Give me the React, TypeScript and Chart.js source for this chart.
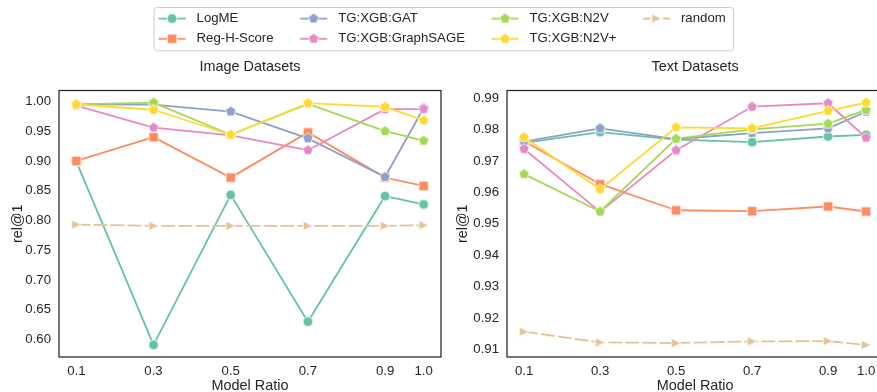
import React, { useEffect, useRef } from 'react';
import { Chart, registerables } from 'chart.js';

Chart.register(...registerables);

// ---------------- data ----------------
const modelRatios = [0.1, 0.3, 0.5, 0.7, 0.9, 1.0];
const seriesNames = ['LogME', 'Reg-H-Score', 'TG:XGB:GAT', 'TG:XGB:GraphSAGE', 'TG:XGB:N2V', 'TG:XGB:N2V+', 'random'];
const seriesColors = ['#66c2a5', '#fc8d62', '#8da0cb', '#e78ac3', '#a6d854', '#ffd92f', '#e5c494'];
const seriesMarkers = ['circle', 'square', 'pentagon', 'pentagon', 'pentagon', 'pentagon', 'triangle'];

// Image Datasets
const imageLogME = [0.899, 0.591, 0.843, 0.630, 0.841, 0.827];
const imageRegHScore = [0.900, 0.940, 0.872, 0.948, 0.872, 0.858];
const imageGAT = [0.995, 0.9945, 0.983, 0.938, 0.873, 0.989];
const imageGraphSAGE = [0.993, 0.956, 0.943, 0.918, 0.987, 0.987];
const imageN2V = [0.995, 0.998, 0.944, 0.996, 0.950, 0.934];
const imageN2VPlus = [0.995, 0.986, 0.944, 0.997, 0.991, 0.968];
const imageRandom = [0.793, 0.791, 0.791, 0.791, 0.791, 0.792];

// Text Datasets
const textLogME = [0.9758, 0.9792, 0.9768, 0.9760, 0.9778, 0.9783];
const textRegHScore = [0.9763, 0.9626, 0.9543, 0.9540, 0.9555, 0.9539];
const textGAT = [0.9762, 0.9804, 0.9770, 0.9789, 0.9804, 0.9857];
const textGraphSAGE = [0.9738, 0.9538, 0.9734, 0.9873, 0.9884, 0.9774];
const textN2V = [0.9658, 0.9539, 0.9771, 0.9801, 0.9819, 0.9863];
const textN2VPlus = [0.9776, 0.9610, 0.9807, 0.9804, 0.9860, 0.9886];
const textRandom = [0.9156, 0.9122, 0.9120, 0.9125, 0.9126, 0.9114];

const imageYTicks = [0.6, 0.65, 0.7, 0.75, 0.8, 0.85, 0.9, 0.95, 1.0];
const textYTicks = [0.91, 0.92, 0.93, 0.94, 0.95, 0.96, 0.97, 0.98, 0.99];

const imageSeries = [imageLogME, imageRegHScore, imageGAT, imageGraphSAGE, imageN2V, imageN2VPlus, imageRandom];
const textSeries = [textLogME, textRegHScore, textGAT, textGraphSAGE, textN2V, textN2VPlus, textRandom];

// ---------------- styling ----------------
const INK = '#262626';
const FONT = '"Liberation Sans", Arial, Helvetica, sans-serif';
const LINE_W = 1.8;
const PLOT_DASH = [14, 3];
const LEGEND_DASH = [7.2, 2.7];

function paintMarker(ctx: CanvasRenderingContext2D, shape: string, cx: number, cy: number, color: string) {
  ctx.beginPath();
  if (shape === 'circle') {
    ctx.arc(cx, cy, 4.9, 0, Math.PI * 2);
  } else if (shape === 'square') {
    ctx.rect(cx - 4.8, cy - 4.8, 9.6, 9.6);
  } else if (shape === 'pentagon') {
    const R = 5.4;
    for (let k = 0; k < 5; k++) {
      const a = -Math.PI / 2 + (k * 2 * Math.PI) / 5;
      const px = cx + R * Math.cos(a);
      const py = cy + R * Math.sin(a);
      if (k === 0) ctx.moveTo(px, py);
      else ctx.lineTo(px, py);
    }
  } else {
    const s = 4.8;
    ctx.moveTo(cx + s, cy);
    ctx.lineTo(cx - s, cy - s);
    ctx.lineTo(cx - s, cy + s);
  }
  ctx.closePath();
  ctx.fillStyle = color;
  ctx.fill();
  ctx.strokeStyle = '#ffffff';
  ctx.lineWidth = 0.8;
  ctx.stroke();
}

function makeMarkerImage(shape: string, color: string) {
  const c = document.createElement('canvas');
  c.width = 16;
  c.height = 16;
  paintMarker(c.getContext('2d')!, shape, 8, 8, color);
  return c;
}

function makeHandleImage(shape: string, color: string, dashed: boolean) {
  const c = document.createElement('canvas');
  c.width = 51;
  c.height = 18;
  const ctx = c.getContext('2d')!;
  ctx.strokeStyle = color;
  ctx.lineWidth = LINE_W;
  if (dashed) ctx.setLineDash(LEGEND_DASH);
  ctx.beginPath();
  ctx.moveTo(19.6, 9);
  ctx.lineTo(46.6, 9);
  ctx.stroke();
  ctx.setLineDash([]);
  paintMarker(ctx, shape, 33.1, 9, color);
  return c;
}

const framePlugin = {
  id: 'axesFrame',
  afterDraw(chart: any) {
    const { ctx, chartArea } = chart;
    ctx.save();
    ctx.strokeStyle = INK;
    ctx.lineWidth = 1.25;
    ctx.strokeRect(chartArea.left, chartArea.top, chartArea.right - chartArea.left, chartArea.bottom - chartArea.top);
    ctx.restore();
  },
};

const legendFramePlugin = {
  id: 'legendFrame',
  beforeDraw(chart: any) {
    const lg = chart.legend;
    const hb = lg && lg.legendHitBoxes;
    if (!hb || hb.length < 7) return;
    const l = hb[0].left + 14.6;
    const r = hb[6].left + hb[6].width + 7.5;
    const t = hb[0].top - 5;
    const b = hb[1].top + hb[1].height + 5;
    const ctx = chart.ctx;
    ctx.save();
    ctx.beginPath();
    if ((ctx as any).roundRect) (ctx as any).roundRect(l + 0.5, t + 0.5, r - l, b - t, 3);
    else ctx.rect(l + 0.5, t + 0.5, r - l, b - t);
    ctx.fillStyle = 'rgba(255,255,255,0.8)';
    ctx.fill();
    ctx.strokeStyle = '#cccccc';
    ctx.lineWidth = 1;
    ctx.stroke();
    ctx.restore();
  },
};

function panelConfig(title: string, series: number[][], yTicks: number[], yTitlePad: number, padRight: number, markers: HTMLCanvasElement[]): any {
  const all = series.flat();
  const lo = Math.min(...all);
  const hi = Math.max(...all);
  const ym = (hi - lo) * 0.05;
  const xLo = Math.min(...modelRatios);
  const xHi = Math.max(...modelRatios);
  const xm = (xHi - xLo) * 0.05;
  return {
    type: 'line',
    data: {
      datasets: series.map((vals, i) => ({
        label: seriesNames[i],
        data: modelRatios.map((x, j) => ({ x, y: vals[j] })),
        borderColor: seriesColors[i],
        backgroundColor: seriesColors[i],
        borderWidth: LINE_W,
        borderDash: i === 6 ? PLOT_DASH : [],
        borderJoinStyle: 'round',
        pointStyle: markers[i],
        pointRadius: 5,
        order: -i,
        tension: 0,
        fill: false,
      })),
    },
    options: {
      responsive: false,
      animation: false,
      events: [],
      layout: { padding: { left: 0, right: padRight, top: 0, bottom: 0 } },
      plugins: {
        legend: { display: false },
        tooltip: { enabled: false },
        title: {
          display: true,
          text: title,
          fullSize: false,
          color: INK,
          font: { family: FONT, size: 14.4, weight: 'normal' },
          padding: { top: 8.66, bottom: 14.56 },
        },
      },
      scales: {
        x: {
          type: 'linear',
          min: xLo - xm,
          max: xHi + xm,
          grid: { display: false, drawTicks: false },
          border: { display: false },
          afterBuildTicks: (s: any) => {
            s.ticks = modelRatios.map((v) => ({ value: v }));
          },
          afterFit: (s: any) => {
            s.height = 39;
          },
          ticks: {
            padding: 6,
            color: INK,
            font: { family: FONT, size: 13.2 },
            maxRotation: 0,
            autoSkip: false,
            callback: (v: any) => Number(v).toFixed(1),
          },
          title: {
            display: true,
            text: 'Model Ratio',
            color: INK,
            font: { family: FONT, size: 14.4 },
            padding: { top: 0, bottom: 1.4 },
          },
        },
        y: {
          type: 'linear',
          min: lo - ym,
          max: hi + ym,
          grid: { display: false, drawTicks: false },
          border: { display: false },
          afterBuildTicks: (s: any) => {
            s.ticks = yTicks.map((v) => ({ value: v }));
          },
          afterFit: (s: any) => {
            s.width = 59;
          },
          ticks: {
            padding: 8,
            color: INK,
            font: { family: FONT, size: 13.2 },
            callback: (v: any) => Number(v).toFixed(2),
          },
          title: {
            display: true,
            text: 'rel@1',
            color: INK,
            font: { family: FONT, size: 14.4 },
            padding: { top: yTitlePad, bottom: 0 },
          },
        },
      },
    },
    plugins: [framePlugin],
  };
}

function legendConfig(handles: HTMLCanvasElement[]): any {
  return {
    type: 'line',
    data: { datasets: [] },
    options: {
      responsive: false,
      animation: false,
      events: [],
      layout: { padding: 0 },
      scales: { x: { display: false }, y: { display: false } },
      plugins: {
        tooltip: { enabled: false },
        title: { display: false },
        legend: {
          display: true,
          position: 'left',
          align: 'start',
          labels: {
            usePointStyle: true,
            pointStyleWidth: 51,
            padding: 7,
            color: INK,
            font: { family: FONT, size: 13.2 },
            generateLabels: () =>
              seriesNames.map((name, i) => ({
                text: name,
                pointStyle: handles[i],
                fillStyle: seriesColors[i],
                strokeStyle: seriesColors[i],
                fontColor: INK,
                lineWidth: 0,
                hidden: false,
                datasetIndex: i,
              })),
          },
        },
      },
    },
    plugins: [legendFramePlugin],
  };
}

export default function App() {
  const legendRef = useRef<HTMLCanvasElement>(null);
  const leftRef = useRef<HTMLCanvasElement>(null);
  const rightRef = useRef<HTMLCanvasElement>(null);

  useEffect(() => {
    Chart.defaults.font.family = FONT;
    Chart.defaults.color = INK;
    const markers = seriesNames.map((_, i) => makeMarkerImage(seriesMarkers[i], seriesColors[i]));
    const handles = seriesNames.map((_, i) => makeHandleImage(seriesMarkers[i], seriesColors[i], i === 6));
    const charts = [
      new Chart(leftRef.current!, panelConfig('Image Datasets', imageSeries, imageYTicks, 9.7, 7, markers)),
      new Chart(rightRef.current!, panelConfig('Text Datasets', textSeries, textYTicks, 6.7, 0, markers)),
      new Chart(legendRef.current!, legendConfig(handles)),
    ];
    return () => charts.forEach((c) => c.destroy());
  }, []);

  return (
    <div style={{ position: 'fixed', left: 0, top: 0, width: 877, height: 392, overflow: 'hidden', background: '#ffffff' }}>
      <canvas ref={leftRef} width={448} height={346} style={{ position: 'absolute', left: 0, top: 50, width: 448, height: 346 }} />
      <canvas ref={rightRef} width={442} height={346} style={{ position: 'absolute', left: 448, top: 50, width: 442, height: 346 }} />
      <canvas ref={legendRef} width={1300} height={56} style={{ position: 'absolute', left: 132, top: 5, width: 1300, height: 56 }} />
    </div>
  );
}
